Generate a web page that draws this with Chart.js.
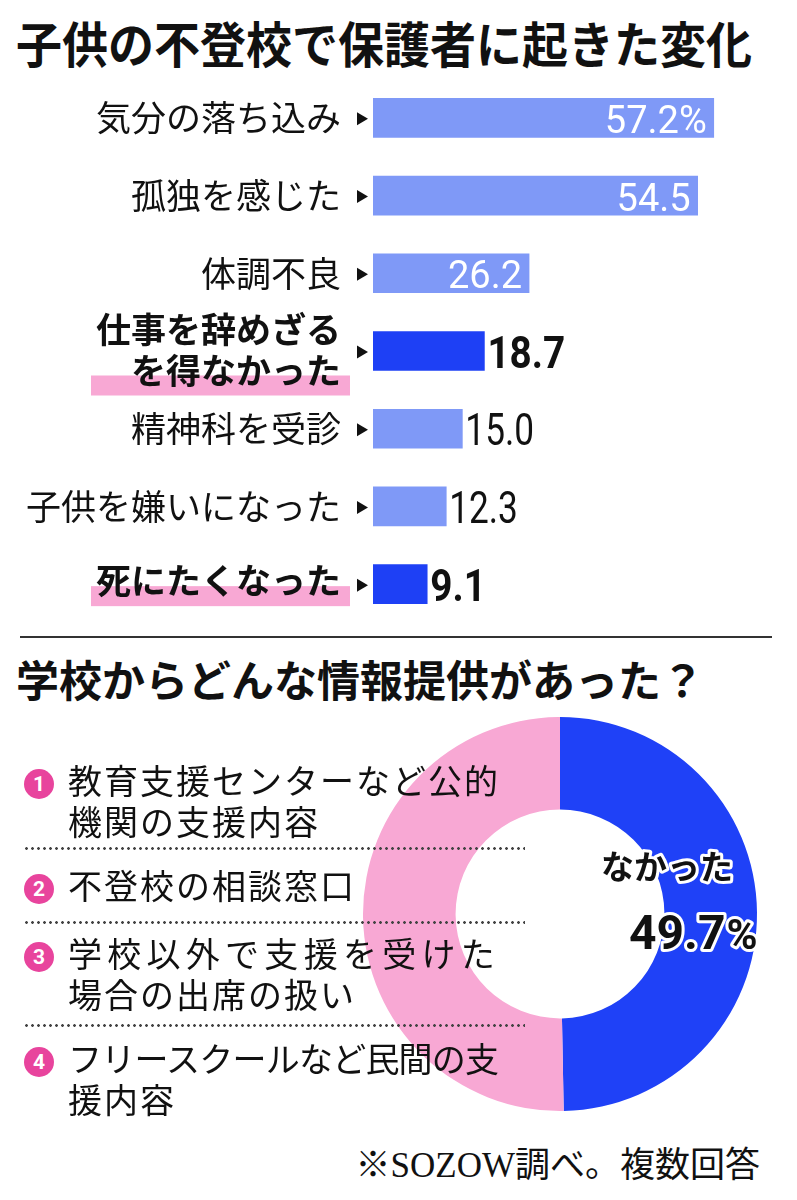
<html>
  <head>
    <meta charset="utf-8">
    <script src="https://cdn.jsdelivr.net/npm/chart.js@4.4.0/dist/chart.umd.min.js"></script>
    <style>
      body{
        margin: 0;
        width: 797px;
        height: 1200px;
        background: #fff;
        position: relative;
        overflow: hidden;
        font-family: "Noto Sans CJK JP", sans-serif;
        color: #111;
      }
      .abs{ position: absolute; white-space: nowrap; }
      .title1{ left: 16px; top: 19px; font-size: 46px; line-height: 46px; font-weight: 700; transform: scaleY(1.06); }
      .title2{ left: 16px; top: 657px; font-size: 43px; line-height: 43px; font-weight: 700; }
      .rule{ left: 20px; top: 636px; width: 752px; height: 2px; background: #333; }
      .item{ left: 68px; font-size: 34px; line-height: 34px; font-weight: 400; z-index: 2; }
      .num{ left: 24px; width: 30px; height: 30px; border-radius: 50%; background: #e8449d; color: #fff;
            font: 700 21px/30px Roboto, sans-serif; text-align: center; z-index: 2; }
      .dots{ left: 25px; width: 500px; height: 3px; z-index: 2;
             background-image: radial-gradient(circle at 1.5px 1.5px, #444 1.1px, transparent 1.6px);
             background-size: 6px 3px; }
      .note{ right: 37px; top: 1148px; font-size: 35px; line-height: 35px;
             font-family: "Liberation Serif", "DejaVu Serif", "Noto Sans CJK JP", serif; }
      #bars{ position: absolute; left: 0; top: 0; }
      #donut{ position: absolute; left: 340px; top: 717px; z-index: 1; }
    </style>
  </head>
  <body>
    <div class="abs title1">子供の不登校で保護者に起きた変化</div>
    <canvas id="bars" width="797" height="630"></canvas>
    <div class="abs rule"></div>
    <div class="abs title2">学校からどんな情報提供があった？</div>
    <canvas id="donut" width="440" height="394"></canvas>
    <div id="list"></div>
    <div class="abs note">※SOZOW調べ。複数回答</div>
    <script>
      // bar chart data
      var categories = ['気分の落ち込み', '孤独を感じた', '体調不良', ['仕事を辞めざる', 'を得なかった'], '精神科を受診', '子供を嫌いになった', '死にたくなった'];
      var values = [57.2, 54.5, 26.2, 18.7, 15.0, 12.3, 9.1];
      var valueLabels = ['57.2%', '54.5', '26.2', '18.7', '15.0', '12.3', '9.1'];
      var emphasized = [false, false, false, true, false, false, true];

      // doughnut data
      var donutLabels = ['なかった', 'あった'];
      var donutValues = [49.7, 50.3];
      var donutText = ['なかった', '49.7', '%'];

      // list of information items
      var infoItems = [
        ['教育支援センターなど公的', '機関の支援内容'],
        ['不登校の相談窓口'],
        ['学校以外で支援を受けた', '場合の出席の扱い'],
        ['フリースクールなど民間の支', '援内容']
      ];

      var lightBlue = '#7f99f7';
      var darkBlue = '#1e40f5';
      var pink = '#f8a8d4';
      var donutBlue = '#1f41f7';

      var barLabelPlugin = {
        id: 'barLabels',
        afterDatasetsDraw: function(chart) {
          var ctx = chart.ctx;
          var left = chart.chartArea.left;
          var xs = chart.scales.x;
          var labelRight = left - 32;
          chart.getDatasetMeta(0).data.forEach(function(bar, i) {
            var cy = bar.y;
            var lines = Array.isArray(categories[i]) ? categories[i] : [categories[i]];
            var bold = emphasized[i];
            ctx.save();
            ctx.font = (bold ? '700 ' : '400 ') + '35px "Noto Sans CJK JP"';
            var centers = lines.length == 2 ? [cy - 21, cy + 19.5] : [bold ? cy - 3 : cy];
            if (bold) {
              var w = Math.max.apply(null, lines.map(function(l){ return ctx.measureText(l).width; }));
              var last = centers[centers.length - 1];
              var hx = labelRight - w - 5;
              ctx.fillStyle = pink;
              ctx.fillRect(hx, last + 5, left - 23 - hx, 20);
            }
            ctx.fillStyle = '#111';
            ctx.textAlign = 'right';
            ctx.textBaseline = 'alphabetic';
            lines.forEach(function(l, k){ ctx.fillText(l, labelRight, centers[k] + 13.3); });
            // little arrow
            ctx.beginPath();
            ctx.moveTo(left - 16, cy - 5.5);
            ctx.lineTo(left - 16, cy + 7.5);
            ctx.lineTo(left - 5, cy + 1);
            ctx.closePath();
            ctx.fill();
            // value
            var end = xs.getPixelForValue(values[i]);
            if (values[i] >= 20) {
              ctx.font = '400 38px Roboto';
              ctx.fillStyle = '#fff';
              ctx.textAlign = 'right';
              ctx.fillText(valueLabels[i], end - 7, cy + 15);
            } else {
              ctx.font = (bold ? '700 ' : '400 ') + '44px Roboto';
              ctx.fillStyle = '#111';
              ctx.textAlign = 'left';
              ctx.translate(end + 3, cy + 16.6);
              ctx.scale(bold ? 0.88 : 0.8, 1);
              ctx.fillText(valueLabels[i], 0, 0);
            }
            ctx.restore();
          });
        }
      };

      new Chart(document.getElementById('bars'), {
        type: 'bar',
        data: {
          labels: categories,
          datasets: [{
            data: values,
            backgroundColor: values.map(function(v, i){ return emphasized[i] ? darkBlue : lightBlue; }),
            borderWidth: 0,
            barThickness: 39
          }]
        },
        options: {
          indexAxis: 'y',
          responsive: false,
          animation: false,
          devicePixelRatio: 1,
          layout: { padding: { left: 373, right: 7, top: 79, bottom: 7 } },
          plugins: { legend: { display: false }, tooltip: { enabled: false } },
          scales: {
            x: { display: false, min: 0, max: 70 },
            y: { display: false }
          }
        },
        plugins: [barLabelPlugin]
      });

      var donutLabelPlugin = {
        id: 'donutLabels',
        afterDraw: function(chart) {
          var ctx = chart.ctx;
          var arc = chart.getDatasetMeta(0).data[0];
          var cx = arc.x, cy = arc.y;
          ctx.save();
          ctx.lineJoin = 'round';
          ctx.strokeStyle = '#fff';
          ctx.lineWidth = 6;
          ctx.fillStyle = '#111';
          ctx.textBaseline = 'alphabetic';
          ctx.textAlign = 'center';
          ctx.font = '700 33px "Noto Sans CJK JP"';
          ctx.strokeText(donutText[0], cx + 107, cy - 48 + 12.5);
          ctx.fillText(donutText[0], cx + 107, cy - 48 + 12.5);
          ctx.textAlign = 'left';
          ctx.font = '700 48px Roboto';
          var x0 = cx + 69;
          var w = ctx.measureText(donutText[1]).width;
          ctx.strokeText(donutText[1], x0, cy + 35);
          ctx.fillText(donutText[1], x0, cy + 35);
          ctx.font = '700 42px Roboto';
          ctx.strokeText(donutText[2], x0 + w + 1, cy + 35);
          ctx.fillText(donutText[2], x0 + w + 1, cy + 35);
          ctx.restore();
        }
      };

      new Chart(document.getElementById('donut'), {
        type: 'doughnut',
        data: {
          labels: donutLabels,
          datasets: [{ data: donutValues, backgroundColor: [donutBlue, pink], borderWidth: 0, hoverOffset: 0 }]
        },
        options: {
          responsive: false,
          animation: false,
          devicePixelRatio: 1,
          cutout: '53%',
          layout: { padding: 0 },
          plugins: { legend: { display: false }, tooltip: { enabled: false } }
        },
        plugins: [donutLabelPlugin]
      });

      // build the numbered list
      var list = document.getElementById('list');
      var firstCenters = [782, 887, 955, 1060];
      var dotRules = [848, 922, 1025];
      var lineGap = 41;
      var measure = document.createElement('canvas').getContext('2d');
      measure.font = '400 34px "Noto Sans CJK JP"';
      infoItems.forEach(function(lines, i) {
        var num = document.createElement('div');
        num.className = 'abs num';
        num.style.top = (firstCenters[i] - 13) + 'px';
        num.textContent = String(i + 1);
        list.appendChild(num);
        lines.forEach(function(text, k) {
          var d = document.createElement('div');
          d.className = 'abs item';
          d.style.top = (firstCenters[i] + k * lineGap - 19) + 'px';
          var spacing = 2;
          if (lines.length > 1 && k == 0) {
            spacing = (432 - measure.measureText(text).width) / text.length;
          }
          d.style.letterSpacing = spacing + 'px';
          d.textContent = text;
          list.appendChild(d);
        });
      });
      dotRules.forEach(function(y) {
        var d = document.createElement('div');
        d.className = 'abs dots';
        d.style.top = (y - 1.5) + 'px';
        list.appendChild(d);
      });
    </script>
  </body>
</html>
